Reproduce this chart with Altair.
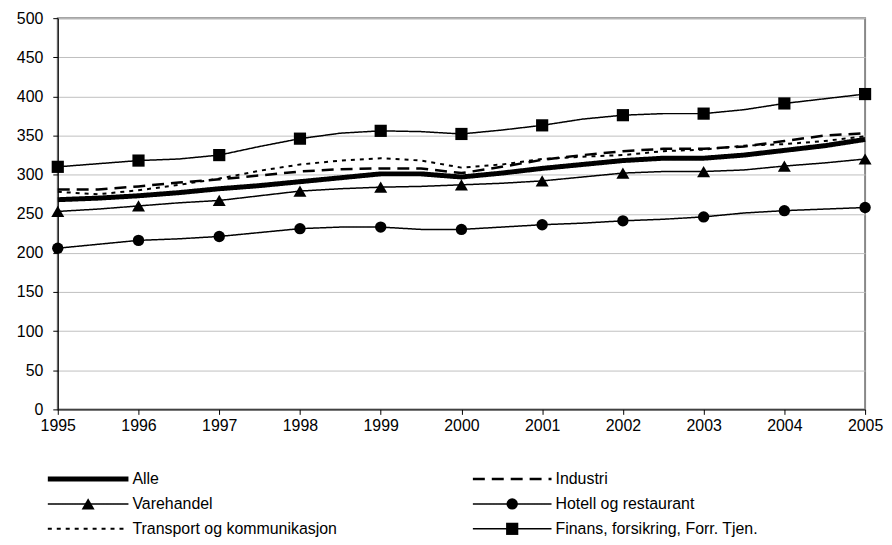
import altair as alt
import pandas as pd

# ---- data ----
YEARS = [1995, 1995.5, 1996, 1996.5, 1997, 1997.5, 1998, 1998.5, 1999, 1999.5, 2000,
         2000.5, 2001, 2001.5, 2002, 2002.5, 2003, 2003.5, 2004, 2004.5, 2005]

ALLE = [268, 270, 273, 277, 282, 286, 291, 296, 301, 301, 297,
        302, 308, 313, 318, 321, 321, 325, 331, 337, 345]
INDUSTRI = [281, 281, 285, 290, 294, 299, 304, 307, 308, 308, 302,
            310, 319, 325, 330, 333, 333, 336, 343, 350, 353]
VAREHANDEL = [253, 256, 260, 264, 267, 273, 279, 282, 284, 285, 287,
              289, 292, 297, 302, 304, 304, 306, 311, 315, 320]
HOTELL = [206, 211, 216, 218, 221, 226, 231, 233, 233, 230, 230,
          233, 236, 238, 241, 243, 246, 251, 254, 256, 258]
TRANSPORT = [278, 275, 280, 287, 295, 305, 313, 318, 321, 318, 309,
             313, 320, 323, 325, 330, 332, 337, 339, 343, 349]
FINANS = [310, 314, 318, 320, 325, 336, 346, 353, 356, 355, 352,
          357, 363, 371, 376, 378, 378, 383, 391, 397, 403]

SERIES = ["Alle", "Industri", "Varehandel", "Hotell og restaurant",
          "Transport og kommunikasjon", "Finans, forsikring, Forr. Tjen."]
VALUES = [ALLE, INDUSTRI, VAREHANDEL, HOTELL, TRANSPORT, FINANS]

Y_TICKS = [0, 50, 100, 150, 200, 250, 300, 350, 400, 450, 500]
X_TICKS = [1995, 1996, 1997, 1998, 1999, 2000, 2001, 2002, 2003, 2004, 2005]

# ---- styles ----
STYLE = {
    "Alle": dict(width=5, dash=[1, 0], shape=None, size=0),
    "Industri": dict(width=2.5, dash=[12, 7], shape=None, size=0),
    "Varehandel": dict(width=1.5, dash=[1, 0], shape="triangle-up", size=170),
    "Hotell og restaurant": dict(width=1.5, dash=[1, 0], shape="circle", size=130),
    "Transport og kommunikasjon": dict(width=2, dash=[4, 5], shape=None, size=0),
    "Finans, forsikring, Forr. Tjen.": dict(width=1.5, dash=[1, 0], shape="square", size=150),
}
FONT = "Liberation Sans"
FS = 16

rows = []
for name, vals in zip(SERIES, VALUES):
    for yr, v in zip(YEARS, vals):
        rows.append({"series": name, "year": yr, "value": v})
df = pd.DataFrame(rows)

xenc = alt.X("year:Q",
             scale=alt.Scale(domain=[1995, 2005], nice=False, zero=False),
             axis=alt.Axis(values=X_TICKS, format="d", title=None, grid=False,
                           tickSize=5, labelPadding=3, labelFlush=False))
yenc = alt.Y("value:Q",
             scale=alt.Scale(domain=[0, 500], nice=False),
             axis=alt.Axis(values=Y_TICKS, title=None, grid=True, gridColor="#c0c0c0",
                           tickSize=5, labelPadding=10))

layers = []
draw_order = ["Hotell og restaurant", "Varehandel", "Finans, forsikring, Forr. Tjen.",
              "Transport og kommunikasjon", "Industri", "Alle"]
for name in draw_order:
    st = STYLE[name]
    base = alt.Chart(df).transform_filter(alt.datum.series == name)
    layers.append(base.mark_line(color="black", strokeWidth=st["width"],
                                 strokeDash=st["dash"], clip=False)
                  .encode(x=xenc, y=yenc))
    if st["shape"]:
        layers.append(base.transform_filter("datum.year % 1 == 0")
                      .mark_point(shape=st["shape"], size=st["size"], filled=True,
                                  color="black", opacity=1, clip=False)
                      .encode(x=xenc, y=yenc))

main = alt.layer(*layers).properties(
    width=811, height=393,
    view=alt.ViewBackground(stroke="#888888", strokeWidth=2),
)

# ---- custom legend (two columns, three rows) ----
LEG_LINE_X0 = [-10, 417]
LEG_LINE_LEN = [81, 79]
LEG_TEXT_GAP = 4
leg_rows = []
for i, name in enumerate(SERIES):
    col, row = i % 2, i // 2
    x0 = LEG_LINE_X0[col]
    x1 = x0 + LEG_LINE_LEN[col]
    leg_rows.append({"series": name, "row": row, "x0": x0, "x1": x1,
                     "xm": (x0 + x1) / 2, "xt": x1 + LEG_TEXT_GAP})
ldf = pd.DataFrame(leg_rows)

lx = alt.Scale(domain=[0, 811], range=[0, 811])
ly = alt.Scale(domain=[0, 2], range=[24, 74])

leg_layers = []
for name in SERIES:
    st = STYLE[name]
    b = alt.Chart(ldf).transform_filter(alt.datum.series == name)
    leg_layers.append(b.mark_rule(color="black", strokeWidth=st["width"],
                                  strokeDash=st["dash"], clip=False)
                      .encode(x=alt.X("x0:Q", scale=lx, axis=None),
                              x2="x1:Q",
                              y=alt.Y("row:Q", scale=ly, axis=None)))
    if st["shape"]:
        leg_layers.append(b.mark_point(shape=st["shape"], size=st["size"], filled=True,
                                       color="black", opacity=1, clip=False)
                          .encode(x=alt.X("xm:Q", scale=lx, axis=None),
                                  y=alt.Y("row:Q", scale=ly, axis=None)))
leg_layers.append(alt.Chart(ldf).mark_text(align="left", baseline="middle", font=FONT,
                                           fontSize=FS, color="black", clip=False)
                  .encode(x=alt.X("xt:Q", scale=lx, axis=None),
                          y=alt.Y("row:Q", scale=ly, axis=None),
                          text="series:N"))

legend = alt.layer(*leg_layers).properties(
    width=811, height=78,
    view=alt.ViewBackground(stroke="transparent"),
)

chart = alt.vconcat(main, legend, spacing=20).properties(
    padding={"left": 7, "top": 0, "right": 0, "bottom": 0},
).configure_axis(
    labelFont=FONT, labelFontSize=FS, labelColor="black",
    domainColor="black", domainWidth=1, tickColor="black", tickWidth=1,
).configure_view(stroke="#888888")

chart.save("out.html", embed_options={"renderer": "svg", "actions": False})
